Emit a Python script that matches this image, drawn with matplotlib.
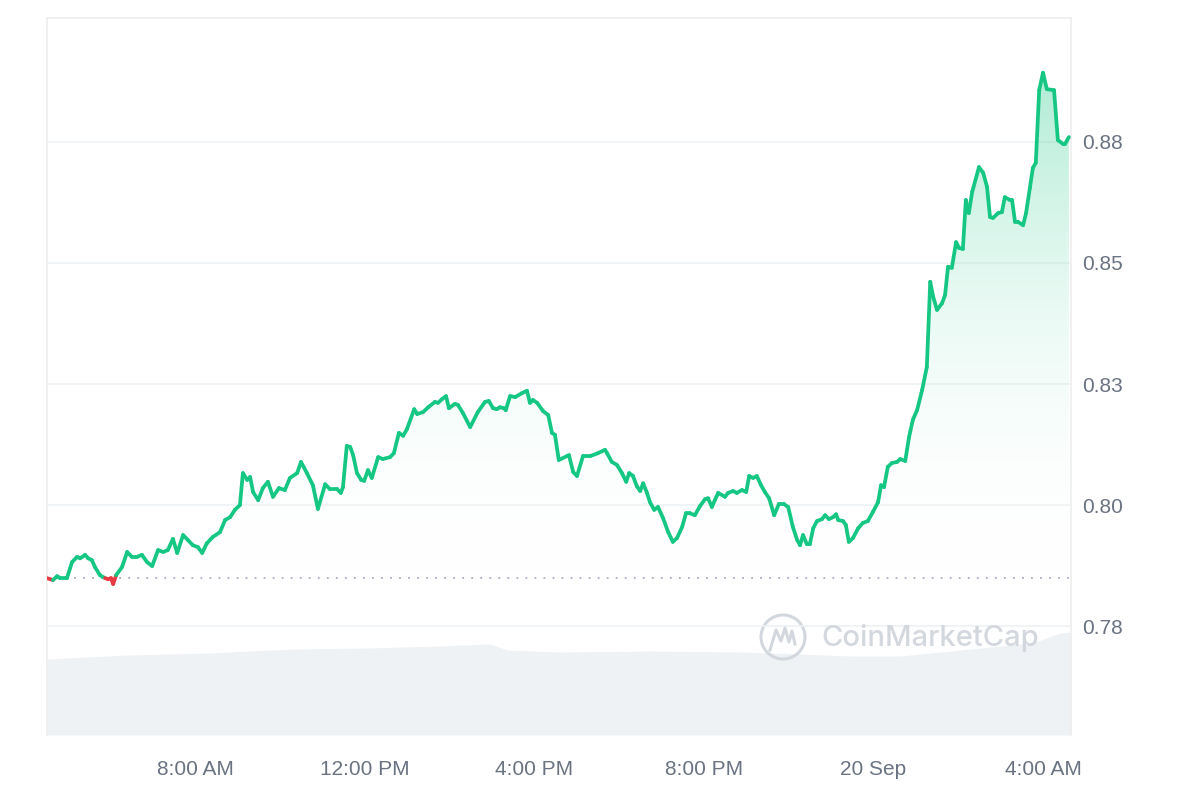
import numpy as np
import matplotlib
matplotlib.use("Agg")
import matplotlib.pyplot as plt
from matplotlib.collections import LineCollection
from matplotlib.colors import LinearSegmentedColormap
from matplotlib.patches import Ellipse
from matplotlib.path import Path
from matplotlib.lines import Line2D

# hours since 00:00 on 19 Sep
hours = [
    4.51, 4.65, 4.75, 4.82, 4.98, 5.10, 5.22, 5.29, 5.41, 5.48, 5.57, 5.64, 5.76, 5.88, 5.95, 6.02,
    6.07, 6.14, 6.28, 6.40, 6.51, 6.63, 6.75, 6.87, 6.99, 7.13, 7.25, 7.36, 7.48, 7.58, 7.72, 7.83,
    7.95, 8.07, 8.17, 8.28, 8.42, 8.59, 8.71, 8.83, 8.94, 9.06, 9.13, 9.23, 9.30, 9.37, 9.49, 9.60,
    9.72, 9.84, 9.98, 10.12, 10.24, 10.41, 10.50, 10.64, 10.78, 10.90, 11.07, 11.18, 11.35, 11.44,
    11.49, 11.58, 11.66, 11.73, 11.82, 11.92, 11.99, 12.08, 12.17, 12.32, 12.43, 12.60, 12.69, 12.81,
    12.91, 13.00, 13.17, 13.24, 13.38, 13.50, 13.66, 13.73, 13.83, 13.92, 13.99, 14.13, 14.20, 14.32,
    14.49, 14.67, 14.84, 14.93, 15.03, 15.12, 15.19, 15.29, 15.33, 15.43, 15.55, 15.71, 15.83, 15.90,
    15.97, 16.07, 16.21, 16.33, 16.42, 16.49, 16.58, 16.77, 16.82, 16.92, 17.01, 17.15, 17.32, 17.50,
    17.67, 17.72, 17.83, 17.95, 18.07, 18.17, 18.24, 18.33, 18.42, 18.50, 18.57, 18.66, 18.73, 18.83,
    18.92, 19.04, 19.16, 19.27, 19.37, 19.49, 19.58, 19.67, 19.79, 19.91, 20.03, 20.10, 20.19, 20.26,
    20.34, 20.50, 20.57, 20.69, 20.78, 20.90, 21.00, 21.07, 21.16, 21.25, 21.35, 21.44, 21.54, 21.66,
    21.77, 21.89, 21.99, 22.10, 22.20, 22.27, 22.34, 22.43, 22.50, 22.58, 22.67, 22.79, 22.86, 22.95,
    23.05, 23.12, 23.17, 23.28, 23.35, 23.42, 23.52, 23.64, 23.75, 23.87, 23.99, 24.11, 24.18, 24.25,
    24.34, 24.44, 24.56, 24.63, 24.75, 24.84, 24.93, 25.03, 25.15, 25.26, 25.34, 25.41, 25.50, 25.62,
    25.69, 25.76, 25.85, 25.95, 26.02, 26.11, 26.18, 26.25, 26.33, 26.49, 26.59, 26.68, 26.75, 26.82,
    26.94, 27.03, 27.10, 27.22, 27.27, 27.34, 27.41, 27.53, 27.60, 27.69, 27.76, 27.83, 27.91, 28.00,
    28.09, 28.26, 28.35, 28.47, 28.52, 28.61,
]
price = [
    0.7849, 0.7845, 0.7853, 0.7849, 0.7849, 0.7882, 0.7893, 0.7890, 0.7897, 0.7890, 0.7886, 0.7872,
    0.7855, 0.7849, 0.7847, 0.7849, 0.7837, 0.7855, 0.7872, 0.7903, 0.7893, 0.7893, 0.7897, 0.7882,
    0.7874, 0.7907, 0.7903, 0.7907, 0.7930, 0.7901, 0.7938, 0.7928, 0.7917, 0.7913, 0.7901, 0.7921,
    0.7934, 0.7944, 0.7969, 0.7975, 0.7990, 0.8000, 0.8066, 0.8052, 0.8058, 0.8027, 0.8010, 0.8035,
    0.8048, 0.8017, 0.8035, 0.8031, 0.8056, 0.8066, 0.8089, 0.8066, 0.8041, 0.7992, 0.8043, 0.8033,
    0.8033, 0.8025, 0.8037, 0.8122, 0.8120, 0.8103, 0.8066, 0.8052, 0.8050, 0.8072, 0.8056, 0.8099,
    0.8095, 0.8099, 0.8107, 0.8149, 0.8143, 0.8157, 0.8198, 0.8188, 0.8192, 0.8202, 0.8213, 0.8211,
    0.8219, 0.8225, 0.8200, 0.8209, 0.8207, 0.8190, 0.8161, 0.8192, 0.8213, 0.8215, 0.8200, 0.8198,
    0.8202, 0.8200, 0.8196, 0.8225, 0.8223, 0.8231, 0.8236, 0.8211, 0.8217, 0.8211, 0.8194, 0.8186,
    0.8149, 0.8145, 0.8093, 0.8101, 0.8103, 0.8068, 0.8060, 0.8101, 0.8101, 0.8107, 0.8114, 0.8107,
    0.8089, 0.8083, 0.8066, 0.8048, 0.8066, 0.8060, 0.8039, 0.8029, 0.8045, 0.8025, 0.8006, 0.7990,
    0.7996, 0.7973, 0.7944, 0.7924, 0.7932, 0.7955, 0.7983, 0.7983, 0.7979, 0.7998, 0.8012, 0.8014,
    0.7996, 0.8010, 0.8025, 0.8017, 0.8025, 0.8029, 0.8025, 0.8031, 0.8027, 0.8060, 0.8056, 0.8060,
    0.8041, 0.8027, 0.8014, 0.7979, 0.8002, 0.8002, 0.7996, 0.7955, 0.7928, 0.7917, 0.7938, 0.7919,
    0.7919, 0.7952, 0.7967, 0.7971, 0.7979, 0.7971, 0.7975, 0.7981, 0.7969, 0.7967, 0.7959, 0.7924,
    0.7932, 0.7952, 0.7963, 0.7967, 0.7986, 0.8006, 0.8041, 0.8037, 0.8079, 0.8087, 0.8089, 0.8095,
    0.8091, 0.8140, 0.8176, 0.8196, 0.8238, 0.8285, 0.8461, 0.8430, 0.8403, 0.8417, 0.8434, 0.8492,
    0.8490, 0.8543, 0.8531, 0.8529, 0.8630, 0.8603, 0.8647, 0.8698, 0.8686, 0.8657, 0.8595, 0.8593,
    0.8603, 0.8605, 0.8636, 0.8630, 0.8630, 0.8585, 0.8585, 0.8578, 0.8603, 0.8655, 0.8696, 0.8707,
    0.8857, 0.8893, 0.8859, 0.8857, 0.8754, 0.8746, 0.8746, 0.8760,
]
open_price = 0.7849

vol_hours = [4.51, 6.42, 8.28, 10.31, 12.06, 13.78, 14.96, 15.36, 16.54, 18.73, 20.92, 22.27,
             23.45, 24.63, 25.81, 26.99, 27.76, 28.40, 28.66]
volume = [76, 80, 82, 86, 87, 89, 91, 85, 83, 84, 83, 81, 79, 79, 84, 89, 92, 102, 103]

tick_hours = [8, 12, 16, 20, 24, 28]
tick_labels = ["8:00 AM", "12:00 PM", "4:00 PM", "8:00 PM", "20 Sep", "4:00 AM"]
price_ticks = [0.775, 0.80, 0.825, 0.85, 0.875]
price_labels = ["0.78", "0.80", "0.83", "0.85", "0.88"]

GREEN = "#16c784"
RED = "#ea3943"
TEXT = "#6a7382"

t = np.array(hours)
p = np.array(price)

fig = plt.figure(figsize=(12, 8), dpi=100)
ax = fig.add_axes([47 / 1200, 65 / 800, 1024 / 1200, 717 / 800])

# volume in the background
axv = ax.twinx()
axv.set_ylim(0, 717)
axv.fill_between(vol_hours, volume, 0, color="#eff2f5", lw=0, zorder=1)
axv.set_axis_off()
ax.set_zorder(axv.get_zorder() + 1)
ax.patch.set_visible(False)

# grid
for v in price_ticks:
    ax.axhline(v, color="#eff2f5", lw=1.2, zorder=0)

# gradient fill between the line and the opening price
verts = np.concatenate([np.column_stack([t, p]),
                        [[t[-1], open_price], [t[0], open_price]]])
clip = Path(verts, closed=True)
cmap = LinearSegmentedColormap.from_list("g", [(1, 1, 1, 0), (22/255, 199/255, 132/255, 0.34)])
grad = np.linspace(0, 1, 256).reshape(-1, 1)
im = ax.imshow(grad, cmap=cmap, aspect="auto", origin="lower",
               extent=[t[0], t[-1], open_price, p.max()], zorder=2, interpolation="bilinear")
im.set_clip_path(clip, transform=ax.transData)
ax.fill_between(t, p, open_price, where=p < open_price, interpolate=True,
                color=RED, alpha=0.12, lw=0, zorder=2)

# line, red below the opening price
pts = np.column_stack([t, p]).reshape(-1, 1, 2)
segs = np.concatenate([pts[:-1], pts[1:]], axis=1)
mid = (p[:-1] + p[1:]) / 2
colors = [RED if m < open_price - 0.0001 else GREEN for m in mid]
lc = LineCollection(segs, colors=colors, lw=2.7, capstyle="round", joinstyle="round", zorder=4)
ax.add_collection(lc)

ax.axhline(open_price, color="#a6b0c3", lw=1.3, ls=(0, (1, 4)), zorder=3)

ax.set_xlim(4.51, 28.66)
ax.set_ylim(0.7525, 0.9006)

# axes styling
ax.spines["bottom"].set_visible(False)
for s in ["left", "top", "right"]:
    ax.spines[s].set_color("#eeeeee")
    ax.spines[s].set_linewidth(1.2)
ax.yaxis.tick_right()
ax.set_yticks(price_ticks)
ax.set_yticklabels(price_labels)
ax.set_xticks(tick_hours)
ax.set_xticklabels(tick_labels)
ax.tick_params(axis="both", length=0, labelsize=15, colors=TEXT)
ax.tick_params(axis="x", pad=18)
ax.tick_params(axis="y", pad=8)
for lbl in ax.get_xticklabels() + ax.get_yticklabels():
    lbl.set_fontfamily("Liberation Sans")

# watermark
wm = "#d3d7de"
fig.add_artist(Ellipse((783 / 1200, 1 - 637 / 800), 44 / 1200, 44 / 800, fill=False,
                       ec=wm, lw=2.2, transform=fig.transFigure))
mx = np.array([770, 776, 781, 785, 789, 792, 795]) / 1200
my = 1 - np.array([650, 630, 641, 628, 642, 631, 644]) / 800
fig.add_artist(Line2D(mx, my, color=wm, lw=2.2, transform=fig.transFigure))
fig.text(821 / 1200, 1 - 638 / 800, "CoinMarketCap", color=wm, fontsize=21,
         fontfamily="Inter", fontweight="medium", va="center", ha="left")

fig.savefig("out.png", dpi=100, facecolor="white")
